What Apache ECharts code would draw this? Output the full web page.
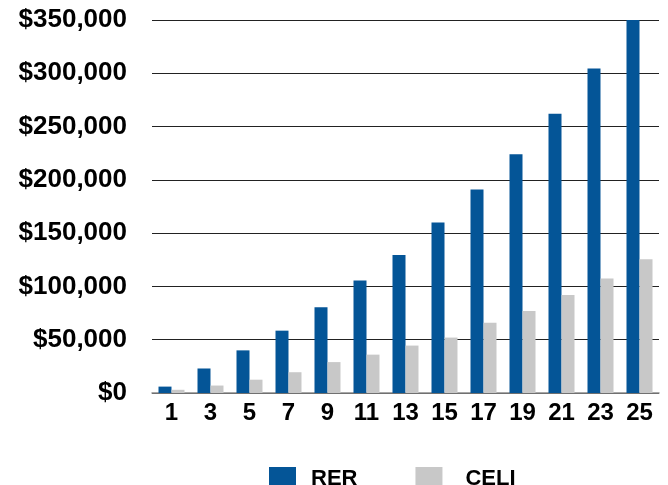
<!DOCTYPE html>
<html>
<head>
<meta charset="utf-8">
<script src="https://cdn.jsdelivr.net/npm/echarts@6/dist/echarts.min.js"></script>
<style>
html,body{margin:0;padding:0;background:#fff;}
#chart{width:668px;height:485px;}
</style>
</head>
<body>
<div id="chart"></div>
<script>
var categories = ['1','3','5','7','9','11','13','15','17','19','21','23','25'];
var rerValues = [6000, 23000, 40000, 58500, 80500, 105500, 129500, 160000, 191000, 224000, 262000, 304500, 350000];
var celiValues = [3000, 7000, 12500, 19500, 29000, 36000, 44500, 52000, 66000, 77000, 92000, 107500, 125500];
var yTickLabels = ['$0','$50,000','$100,000','$150,000','$200,000','$250,000','$300,000','$350,000'];
var seriesNames = ['RER','CELI'];

var chart = echarts.init(document.getElementById('chart'));
var font = 'Liberation Sans';
chart.setOption({
  animation: false,
  backgroundColor: '#fff',
  grid: { left: 152, right: 9, top: 20, bottom: 92 },
  legend: {
    top: 462, left: 264,
    itemWidth: 27, itemHeight: 23, itemGap: 58,
    icon: 'rect',
    data: [
      { name: seriesNames[0], textStyle: { padding: [0,0,0,10] } },
      { name: seriesNames[1], textStyle: { padding: [0,0,0,18] } }
    ],
    textStyle: { fontFamily: font, fontWeight: 'bold', fontSize: 22, color: '#000' }
  },
  xAxis: {
    type: 'category',
    data: categories,
    axisTick: { show: false },
    axisLine: { lineStyle: { color: '#8a8a8a', width: 1.5 } },
    axisLabel: { margin: 8, fontFamily: font, fontWeight: 'bold', fontSize: 24, color: '#000' }
  },
  yAxis: {
    type: 'value', min: 0, max: 350000, interval: 50000,
    axisLine: { show: false }, axisTick: { show: false },
    splitLine: { lineStyle: { color: '#222', width: 1 } },
    axisLabel: {
      margin: 25, fontFamily: font, fontWeight: 'bold', fontSize: 26, color: '#000',
      formatter: function (v) { return yTickLabels[Math.round(v / 50000)]; }
    }
  },
  series: [
    { name: seriesNames[0], type: 'bar', data: rerValues, barWidth: 13, barGap: '0%', itemStyle: { color: '#045597' } },
    { name: seriesNames[1], type: 'bar', data: celiValues, barWidth: 13, barGap: '0%', itemStyle: { color: '#c8c8c8' } }
  ]
});
</script>
</body>
</html>
